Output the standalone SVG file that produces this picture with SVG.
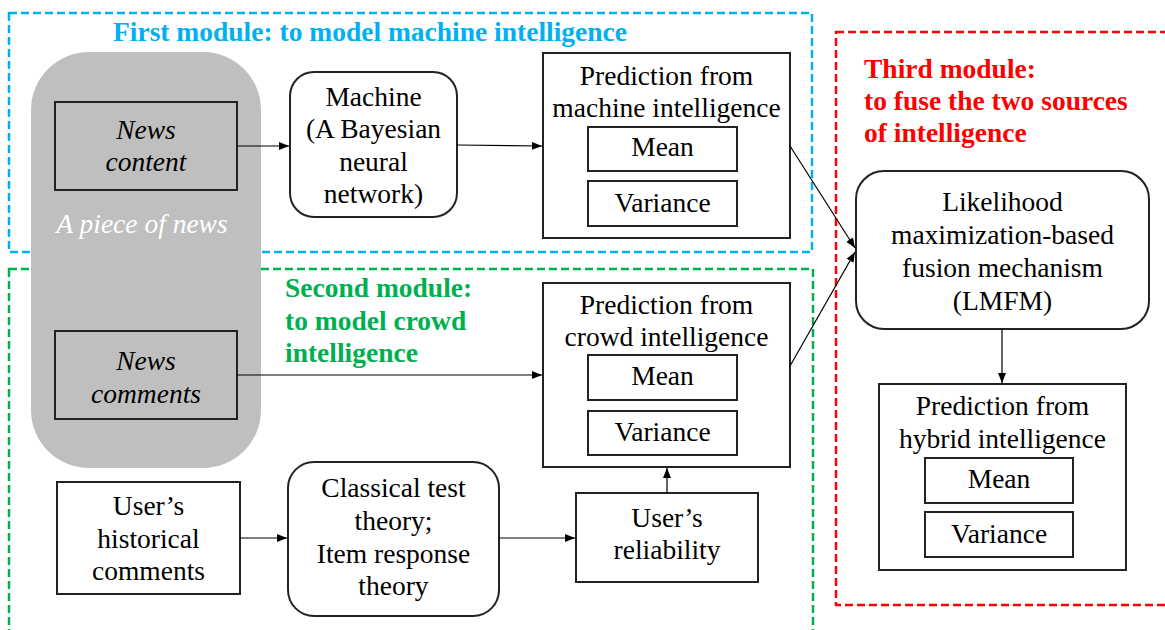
<svg xmlns="http://www.w3.org/2000/svg" width="1165" height="630" viewBox="0 0 1165 630">
<defs>
<marker id="ah" viewBox="0 0 10 10" refX="10" refY="5" markerWidth="10" markerHeight="10" markerUnits="userSpaceOnUse" orient="auto">
<path d="M0,1 L10,5 L0,9 Z" fill="#000"/>
</marker>
<style>
text{font-family:'Liberation Serif','Times New Roman',serif}
.t{font-size:27.5px;fill:#000;text-anchor:middle}
.i{font-style:italic}
.b{font-size:27.5px;font-weight:bold}
.box{fill:#fff;stroke:#222;stroke-width:2}
.gbox{fill:#bfbfbf;stroke:#222;stroke-width:2}
.mod{fill:none;stroke-width:2.5;stroke-dasharray:8,4}
.c{stroke:#000;stroke-width:1.2;fill:none;marker-end:url(#ah)}
</style>
</defs>
<rect width="1165" height="630" fill="#fff"/>

<g id="module-frames">
<rect class="mod" x="9" y="13" width="803" height="239" stroke="#00b0f0"/>
<rect class="mod" x="9" y="269" width="804" height="400" stroke="#00b050"/>
<rect class="mod" x="836" y="32" width="340" height="573" stroke="#ff0000"/>
<text class="b" x="370" y="41" text-anchor="middle" fill="#00b0f0">First module: to model machine intelligence</text>
<text class="b" x="285" y="297" fill="#00b050">Second module:</text>
<text class="b" x="285" y="330" fill="#00b050">to model crowd</text>
<text class="b" x="285" y="362" fill="#00b050">intelligence</text>
<text class="b" x="864" y="78" fill="#ff0000">Third module:</text>
<text class="b" x="864" y="110" fill="#ff0000">to fuse the two sources</text>
<text class="b" x="864" y="142" fill="#ff0000">of intelligence</text>
</g>

<g id="piece-of-news">
<rect x="31" y="52" width="230" height="416" rx="58" ry="58" fill="#bfbfbf"/>
<text class="t i" x="142" y="233" style="fill:#fff">A piece of news</text>
</g>

<g id="news-content">
<rect class="gbox" x="55" y="102" width="182" height="88"/>
<text class="t i" x="146" y="139">News</text>
<text class="t i" x="146" y="171">content</text>
</g>

<g id="news-comments">
<rect class="gbox" x="55" y="331" width="182" height="88"/>
<text class="t i" x="146" y="370">News</text>
<text class="t i" x="146" y="403">comments</text>
</g>

<g id="machine">
<rect class="box" x="290" y="72" width="167" height="145" rx="24" ry="24"/>
<text class="t" x="373.5" y="106">Machine</text>
<text class="t" x="373.5" y="138">(A Bayesian</text>
<text class="t" x="373.5" y="171">neural</text>
<text class="t" x="373.5" y="203">network)</text>
</g>

<g id="pred-machine">
<rect class="box" x="543" y="53" width="247" height="185"/>
<text class="t" x="666.5" y="85">Prediction from</text>
<text class="t" x="666.5" y="117">machine intelligence</text>
<rect class="box" x="588" y="127" width="149" height="44"/>
<text class="t" x="662.5" y="156">Mean</text>
<rect class="box" x="588" y="181" width="149" height="45"/>
<text class="t" x="662.5" y="212">Variance</text>
</g>

<g id="pred-crowd">
<rect class="box" x="543" y="283" width="247" height="184"/>
<text class="t" x="666.5" y="314">Prediction from</text>
<text class="t" x="666.5" y="346">crowd intelligence</text>
<rect class="box" x="588" y="355" width="149" height="45"/>
<text class="t" x="662.5" y="385">Mean</text>
<rect class="box" x="588" y="411" width="149" height="44"/>
<text class="t" x="662.5" y="441">Variance</text>
</g>

<g id="users-history">
<rect class="box" x="57" y="482" width="183" height="112"/>
<text class="t" x="148.5" y="515">User’s</text>
<text class="t" x="148.5" y="548">historical</text>
<text class="t" x="148.5" y="580">comments</text>
</g>

<g id="test-theory">
<rect class="box" x="288" y="462" width="211" height="154" rx="26" ry="26"/>
<text class="t" x="393.5" y="497">Classical test</text>
<text class="t" x="393.5" y="530">theory;</text>
<text class="t" x="393.5" y="563">Item response</text>
<text class="t" x="393.5" y="595">theory</text>
</g>

<g id="reliability">
<rect class="box" x="576" y="493" width="182" height="89"/>
<text class="t" x="667" y="527">User’s</text>
<text class="t" x="667" y="559">reliability</text>
</g>

<g id="lmfm">
<rect class="box" x="856" y="171" width="293" height="158" rx="28" ry="28"/>
<text class="t" x="1002.5" y="211">Likelihood</text>
<text class="t" x="1002.5" y="244">maximization-based</text>
<text class="t" x="1002.5" y="277">fusion mechanism</text>
<text class="t" x="1002.5" y="310">(LMFM)</text>
</g>

<g id="pred-hybrid">
<rect class="box" x="879" y="384" width="247" height="186"/>
<text class="t" x="1002.5" y="415">Prediction from</text>
<text class="t" x="1002.5" y="448">hybrid intelligence</text>
<rect class="box" x="925" y="458" width="148" height="45"/>
<text class="t" x="999" y="488">Mean</text>
<rect class="box" x="925" y="512" width="148" height="45"/>
<text class="t" x="999" y="543">Variance</text>
</g>

<g id="connectors">
<line class="c" x1="237" y1="146" x2="289" y2="146"/>
<line class="c" x1="457" y1="145" x2="542" y2="146"/>
<line class="c" x1="237" y1="375" x2="542" y2="375"/>
<line class="c" x1="240" y1="538" x2="287" y2="538"/>
<line class="c" x1="499" y1="538" x2="575" y2="538"/>
<line class="c" x1="667" y1="493" x2="667" y2="468"/>
<line class="c" x1="790" y1="146" x2="855" y2="248"/>
<line class="c" x1="790" y1="366" x2="855" y2="252"/>
<line class="c" x1="1002" y1="329" x2="1002" y2="383"/>
</g>
</svg>
